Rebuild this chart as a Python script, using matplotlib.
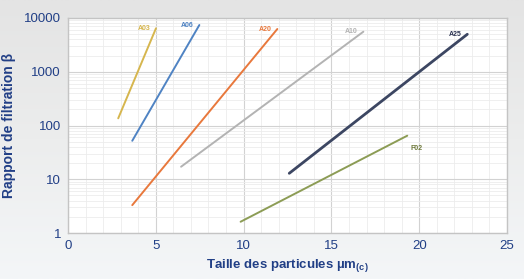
import numpy as np
import matplotlib
matplotlib.use("Agg")
import matplotlib.pyplot as plt

plt.rcParams['font.family'] = ['Liberation Sans', 'DejaVu Sans']
plt.rcParams['mathtext.fontset'] = 'custom'
plt.rcParams['mathtext.rm'] = 'Liberation Sans'
plt.rcParams['mathtext.bf'] = 'Liberation Sans:bold'

# filtres : (taille début, taille fin), (beta début, beta fin)
names = ['A03', 'A06', 'A20', 'A10', 'A25', 'F02']
x_start = [2.86, 3.66, 3.66, 6.44, 12.6, 9.83]
x_end = [5.01, 7.48, 11.92, 16.82, 22.74, 19.32]
b_start = [136, 52, 3.3, 17.1, 12.9, 1.62]
b_end = [6430, 7400, 6240, 5560, 4980, 64.6]
colors = ['#d6b64e', '#4f83c3', '#e8783c', '#b3b3b3', '#3c4662', '#8c9c55']

x_ticks = [0, 5, 10, 15, 20, 25]
y_ticks = [1, 10, 100, 1000, 10000]
txt = '#213f86'

fig = plt.figure(figsize=(5.24, 2.79), dpi=100)

# fond dégradé gris
bg = fig.add_axes([0, 0, 1, 1], zorder=-10)
grad = np.linspace(0, 1, 256).reshape(-1, 1)
bg.imshow(grad, aspect='auto', cmap=matplotlib.colors.LinearSegmentedColormap.from_list(
    'g', ['#e4e4e4', '#eceded', '#f4f6f8']), extent=[0, 1, 0, 1])
bg.axis('off')

ax = fig.add_axes([68/524, 1 - 233/279, (507 - 68)/524, (233 - 18)/279])
ax.set_facecolor('white')
ax.set_yscale('log')
ax.set_xlim(0, 25)
ax.set_ylim(1, 10000)

for i, n in enumerate(names):
    lw = 2.0 if n == 'A25' else 1.4
    ax.plot([x_start[i], x_end[i]], [b_start[i], b_end[i]], color=colors[i], lw=lw,
            solid_capstyle='round', zorder=3)
    if n == 'F02':
        ax.annotate(n, (x_end[i], b_end[i]), xytext=(2, -9), textcoords='offset points',
                    fontsize=5, color='#6f7a3c', fontweight='bold', ha='left', va='center')
    else:
        ax.annotate(n, (x_end[i], b_end[i]), xytext=(-4, 0), textcoords='offset points',
                    fontsize=5, color=colors[i] if n != 'A25' else '#2a3150',
                    fontweight='bold', ha='right', va='center')

ax.set_xticks(x_ticks)
ax.set_yticks(y_ticks)
ax.set_yticklabels([str(v) for v in y_ticks])
ax.set_xticks(np.arange(0, 26, 1), minor=True)
ax.grid(which='major', color='#d2d2d2', lw=0.8)
ax.grid(which='minor', color='#ececec', lw=0.6)
ax.tick_params(which='both', length=0, colors=txt, labelsize=9.5, pad=5)
ax.tick_params(axis='x', pad=5)
for s in ax.spines.values():
    s.set_color('#c4c4c4')
    s.set_linewidth(1.0)

ax.set_ylabel('Rapport de filtration β', color=txt, fontsize=10, fontweight='bold', labelpad=6)
ax.set_xlabel(r'Taille des particules µm$_{\mathbf{(c)}}$', color=txt, fontsize=9.5,
              fontweight='bold', labelpad=4)

fig.savefig('out.png', dpi=100)
